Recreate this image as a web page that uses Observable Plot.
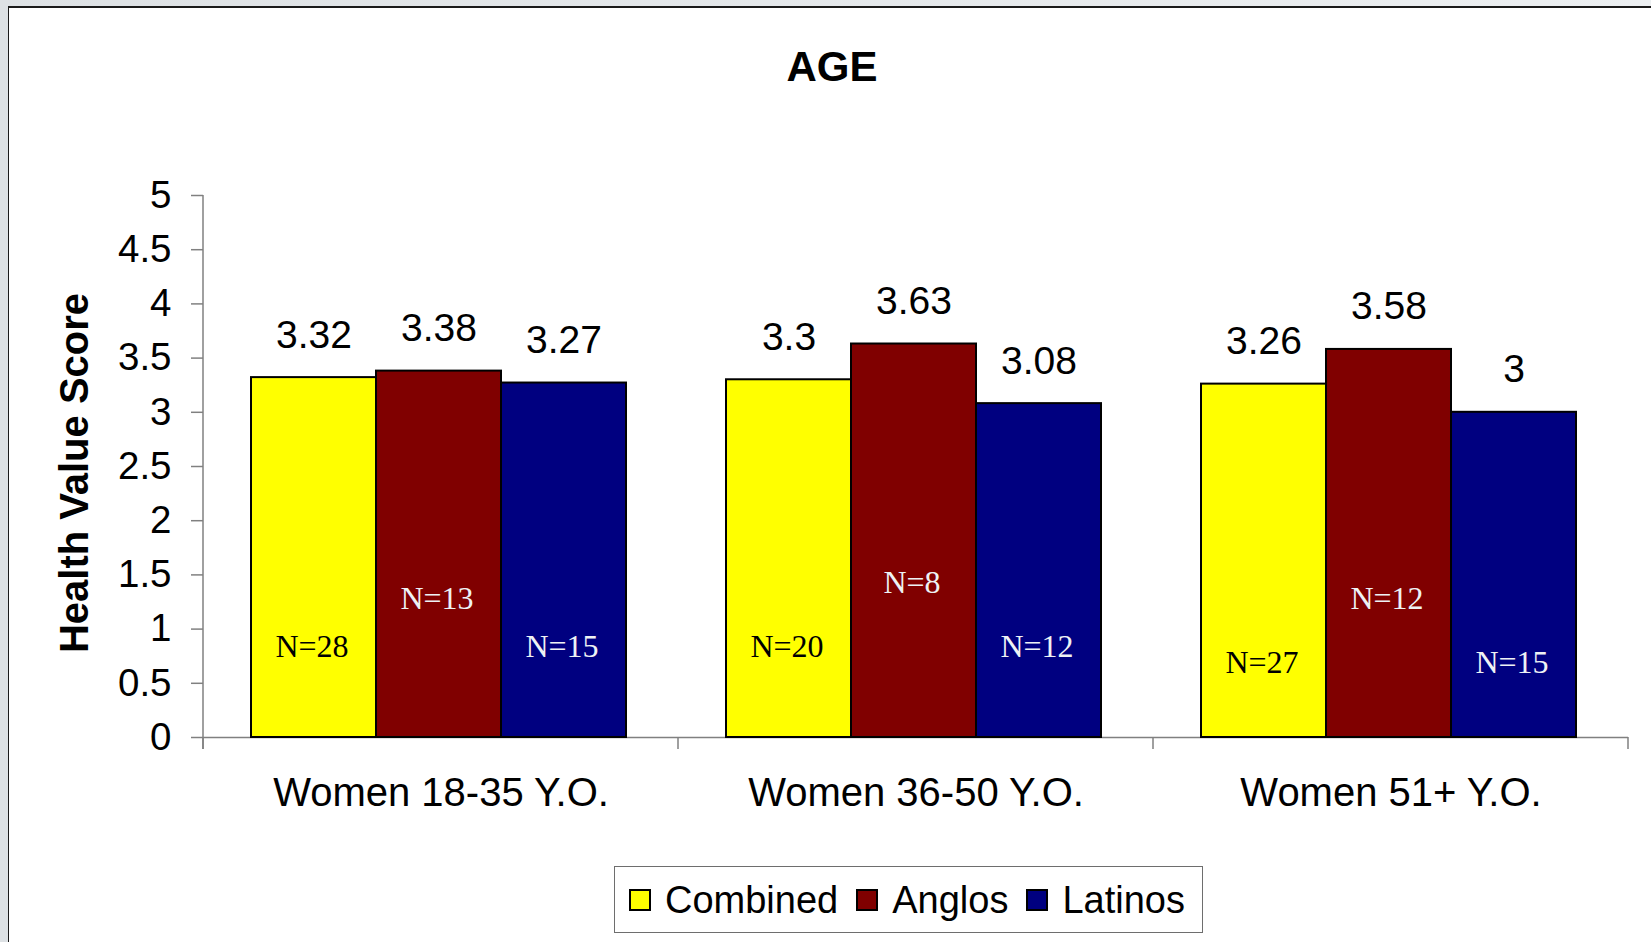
<!DOCTYPE html>
<html>
<head>
<meta charset="utf-8">
<script src="https://cdn.jsdelivr.net/npm/d3@7"></script>
<script src="https://cdn.jsdelivr.net/npm/@observablehq/plot@0.6"></script>
<style>
  html, body { margin: 0; padding: 0; }
  body { width: 1651px; height: 942px; overflow: hidden; background: linear-gradient(to right, #dde1e4, #eceff1); font-family: "Liberation Sans", Arial, sans-serif; }
  #wrap { position: relative; width: 1651px; height: 942px; }
  #paper { position: absolute; left: 8px; top: 6px; right: 0; bottom: 0; background: #fff; border-left: 1.5px solid #1a1a1a; border-top: 2px solid #1a1a1a; }
  #chart { position: absolute; left: 0; top: 0; }
  #legend { position: absolute; left: 614px; top: 866px; width: 589px; height: 67px; box-sizing: border-box; border: 1px solid #6e6e6e; background: #fff; display: flex; align-items: center; padding-left: 14px; }
  .item { display: flex; align-items: center; margin-right: 18px; }
  .sw { width: 18px; height: 18px; border: 2px solid #000; margin-right: 14px; }
  .lab { font-size: 38px; line-height: 1; color: #000; }
</style>
</head>
<body>
<div id="wrap">
  <div id="paper"></div>
  <div id="chart"></div>
  <div id="legend"></div>
</div>
<script>
// ---- data ----
const categories = ["Women 18-35 Y.O.", "Women 36-50 Y.O.", "Women 51+ Y.O."];
const series = ["Combined", "Anglos", "Latinos"];
const colors = ["#ffff00", "#800000", "#000080"];
const combined = [3.32, 3.3, 3.26];
const anglos = [3.38, 3.63, 3.58];
const latinos = [3.27, 3.08, 3];
const nCombined = [28, 20, 27];
const nAnglos = [13, 8, 12];
const nLatinos = [15, 12, 15];
// score-axis height at which each "N=" annotation sits
const nLevelCombined = [0.74, 0.74, 0.595];
const nLevelAnglos = [1.19, 1.33, 1.19];
const nLevelLatinos = [0.74, 0.74, 0.595];
const yTicks = [0, 0.5, 1, 1.5, 2, 2.5, 3, 3.5, 4, 4.5, 5];
const chartTitle = "AGE";
const yTitle = "Health Value Score";

const valuesBySeries = [combined, anglos, latinos];
const nBySeries = [nCombined, nAnglos, nLatinos];
const levelBySeries = [nLevelCombined, nLevelAnglos, nLevelLatinos];
const rows = [];
categories.forEach((c, ci) => {
  series.forEach((s, si) => {
    rows.push({category: c, series: s, value: valuesBySeries[si][ci], n: nBySeries[si][ci], level: levelBySeries[si][ci]});
  });
});

const sans = "Liberation Sans, Arial, sans-serif";
const serif = "Liberation Serif, Times New Roman, serif";

const plot = Plot.plot({
  width: 1651,
  height: 942,
  marginLeft: 202,
  marginRight: 23,
  marginTop: 195,
  marginBottom: 205,
  style: {background: "transparent", overflow: "visible", fontFamily: sans, color: "black"},
  fx: {domain: categories, padding: 0, label: null},
  x: {domain: series, paddingInner: 0, paddingOuter: 0.396, align: 0.477, axis: null},
  y: {domain: [0, 5], label: null},
  color: {domain: series, range: colors},
  marks: [
    Plot.ruleY([0], {stroke: "#808080", strokeWidth: 1.5}),
    Plot.barY(rows, {fx: "category", x: "series", y: "value", fill: "series", stroke: "black", strokeWidth: 2}),
    Plot.text(rows, {fx: "category", x: "series", y: "value", text: d => String(d.value), lineAnchor: "bottom", dy: -30, fontSize: 39, fontFamily: sans, fill: "black"}),
    Plot.text(rows, {fx: "category", x: "series", y: "level", text: d => "N=" + d.n, lineAnchor: "bottom", dx: -2, fontSize: 32, fontFamily: serif, fill: d => d.series === "Combined" ? "#000000" : "#eef2f5"}),
    Plot.axisY({ticks: yTicks, tickSize: 12, tickPadding: 20, fontSize: 38.5, stroke: "#808080", strokeWidth: 1.5, tickFormat: d => String(d), label: null}),
    Plot.axisFx({anchor: "bottom", tickSize: 0, tickPadding: 40, fontSize: 40, label: null})
  ]
});
document.getElementById("chart").appendChild(plot);

// axis line and category boundary ticks, placed with the plot's own scales
const svg = d3.select(plot);
const fxS = plot.scale("fx");
const yS = plot.scale("y");
const bw = fxS.bandwidth;
const bounds = categories.map(c => fxS.apply(c)).concat([fxS.apply(categories[categories.length - 1]) + bw]);
const y0 = yS.apply(0), y5 = yS.apply(5);
svg.append("line").attr("x1", bounds[0]).attr("x2", bounds[0]).attr("y1", y5).attr("y2", y0 + 12)
  .attr("stroke", "#808080").attr("stroke-width", 1.5);
bounds.forEach(b => {
  svg.append("line").attr("x1", b).attr("x2", b).attr("y1", y0).attr("y2", y0 + 12)
    .attr("stroke", "#808080").attr("stroke-width", 1.5);
});
// titles
svg.append("text").attr("x", 832).attr("y", 81).attr("text-anchor", "middle")
  .attr("font-family", sans).attr("font-weight", "bold").attr("font-size", 42).attr("fill", "black").text(chartTitle);
svg.append("text").attr("transform", "translate(88,473) rotate(-90)").attr("text-anchor", "middle")
  .attr("font-family", sans).attr("font-weight", "bold").attr("font-size", 40).attr("fill", "black").text(yTitle);

// legend
const legend = d3.select("#legend");
series.forEach((s, i) => {
  const it = legend.append("div").attr("class", "item");
  it.append("div").attr("class", "sw").style("background", colors[i]);
  it.append("div").attr("class", "lab").text(s);
});
</script>
</body>
</html>
